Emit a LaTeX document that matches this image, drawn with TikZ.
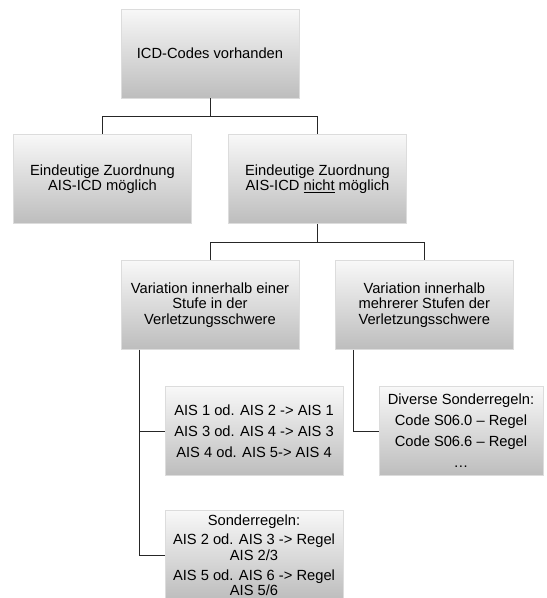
\documentclass[tikz,border=0pt]{standalone}
\usepackage{fontspec}
\setmainfont{Liberation Sans}
\definecolor{boxline}{HTML}{DCDCDC}
\definecolor{boxtop}{HTML}{F8F8F8}
\definecolor{boxbot}{HTML}{BDBDBD}
\begin{document}
\begin{tikzpicture}[x=1pt,y=-1pt,
  box/.style={draw=boxline, line width=0.8pt, top color=boxtop, bottom color=boxbot,
    minimum width=178pt, minimum height=89pt, inner sep=2pt, align=center,
    font=\fontsize{14.7}{15.3}\selectfont},
  conn/.style={draw=black!85, line width=1pt}]
\useasboundingbox[fill=white] (0,0) rectangle (547,598);
\node[box] (a) at (210,53.5) {ICD-Codes vorhanden};
\node[box] (b) at (102.5,179) {Eindeutige Zuordnung\\AIS-ICD möglich};
\node[box] (c) at (317.5,179) {Eindeutige Zuordnung\\AIS-ICD \underline{nicht} möglich};
\node[box] (d) at (210,305) {Variation innerhalb einer\\Stufe in der\\Verletzungsschwere};
\node[box] (e) at (424.3,305) {Variation innerhalb\\mehrerer Stufen der\\Verletzungsschwere};
\node[box] (f) at (254,431) {AIS 1 od. AIS 2 -> AIS 1\\[5.7pt]AIS 3 od. AIS 4 -> AIS 3\\[5.7pt]AIS 4 od. AIS 5-> AIS 4};
\node[box] (g) at (254,555) {Sonderregeln:\\[4.5pt]AIS 2 od. AIS 3 -> Regel\\AIS 2/3\\[4.5pt]AIS 5 od. AIS 6 -> Regel\\AIS 5/6};
\node[box, minimum width=164pt] (h) at (461,431) {Diverse Sonderregeln:\\[5.7pt]Code S06.0 – Regel\\[5.7pt]Code S06.6 – Regel\\[5.7pt]…};
\coordinate (bus1) at (0,116);
\coordinate (bus2) at (0,242);
\coordinate (lx) at (139,0);
\coordinate (rx) at (353.5,0);
\draw[conn] (a.south) -- (a.south |- bus1) -| (b.north);
\draw[conn] (a.south |- bus1) -| (c.north);
\draw[conn] (c.south) -- (c.south |- bus2) -| (d.north);
\draw[conn] (c.south |- bus2) -| (e.north);
\draw[conn] (d.south -| lx) |- (f.west);
\draw[conn] (d.south -| lx) |- (g.west);
\draw[conn] (e.south -| rx) |- (h.west);
\end{tikzpicture}
\end{document}
